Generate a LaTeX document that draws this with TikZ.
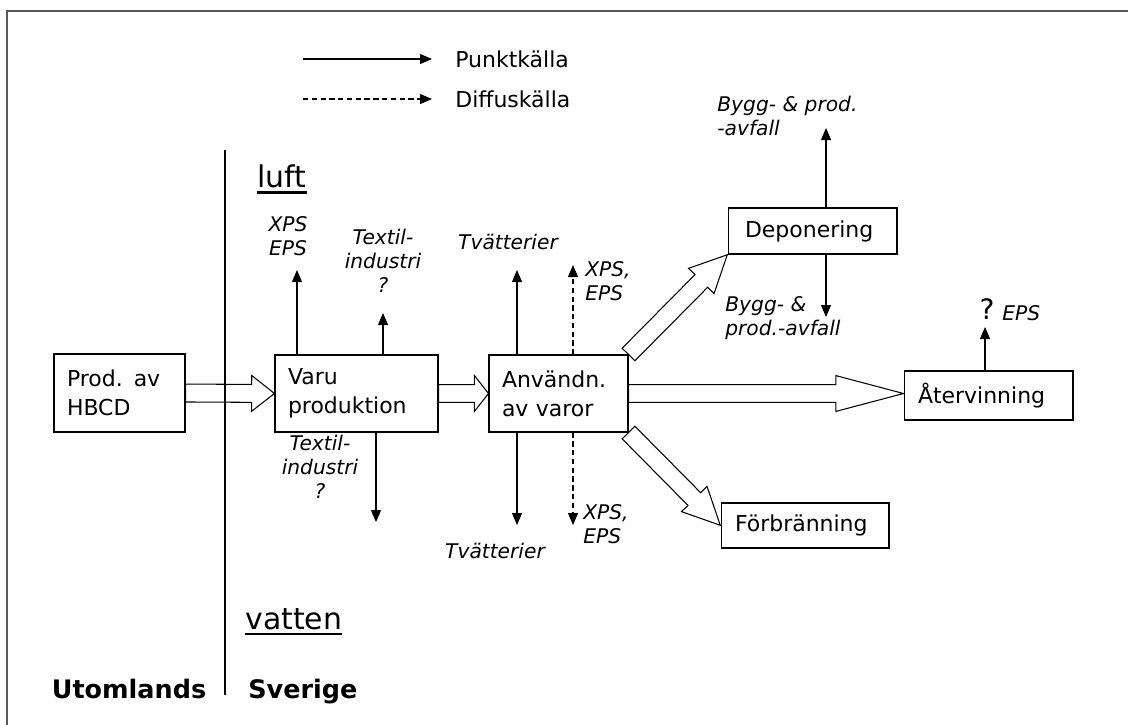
\documentclass[tikz,border=0pt]{standalone}
\usepackage{fontspec}
\setmainfont{DejaVu Sans}
\usetikzlibrary{arrows.meta,positioning,calc,backgrounds}

% block arrow: from, to, head length
\newcommand{\fatarrow}[3]{%
  \path let \p1=(#1), \p2=(#2) in
    \pgfextra{\pgfmathsetmacro\fatang{atan2(\y2-\y1,\x2-\x1)}%
      \pgfmathsetmacro\fatlen{veclen(\x2-\x1,\y2-\y1)}%
      \xdef\fatang{\fatang}\xdef\fatlen{\fatlen}};
  \draw[fat, shift={(#1)}, rotate=\fatang]
    (0pt,-5.1pt) -- ({\fatlen pt-#3},-5.1pt) -- ({\fatlen pt-#3},-10.2pt)
    -- ({\fatlen pt},0pt) -- ({\fatlen pt-#3},10.2pt) -- ({\fatlen pt-#3},5.1pt)
    -- (0pt,5.1pt) -- cycle;}

\begin{document}
\begin{tikzpicture}[x=0.02cm, y=-0.02cm,
    box/.style={draw, fill=white, line width=0.6pt, inner sep=0pt, align=left, font=\fontsize{12.5}{16.5}\selectfont},
    lab/.style={inner sep=0pt, align=center, font=\itshape\fontsize{11.5}{13.5}\selectfont},
    txt/.style={inner sep=0pt, font=\fontsize{12.5}{15}\selectfont},
    big/.style={inner sep=0pt, anchor=base west, font=\fontsize{17}{20}\selectfont},
    land/.style={inner sep=0pt, anchor=base, font=\bfseries\fontsize{14.5}{17}\selectfont},
    pk/.style={-{Triangle[length=2.4mm,width=2mm]}, line width=0.6pt},
    dk/.style={pk, dash pattern=on 3pt off 2pt},
    fat/.style={draw, fill=white, line width=0.6pt, line join=miter}
]
\useasboundingbox (0,0) rectangle (1128,724);
\draw[black!65, line width=0.9pt] (7,11) rectangle (1140,740);

% legend
\coordinate (lg1) at (303,59);
\coordinate (lg2) at (303,99);
\node[txt, anchor=west] (punkt) at (455,59) {Punktkälla};
\node[txt, anchor=west] (diffus) at (455,99) {Diffuskälla};
\draw[pk] (lg1) -- ([xshift=-0.46cm]punkt.west |- lg1);
\draw[dk] (lg2) -- ([xshift=-0.46cm]diffus.west |- lg2);

% border
\draw[line width=0.6pt] (225,150) -- (225,695);
\node[land] (utom) at (129,698) {Utomlands};
\node[land, anchor=base west] (sve) at (248,698) {Sverige};
\node[big] (luft) at (257,187) {luft};
\draw[line width=1.5pt] ([yshift=-3.2pt]luft.base west) -- ([yshift=-3.2pt]luft.base east);
\node[big] (vatten) at (245,629) {vatten};
\draw[line width=1.5pt] ([yshift=-2.8pt]vatten.base west) -- ([yshift=-2.8pt]vatten.base east);

% boxes
\node[box, minimum width=2.62cm, text width=2.1cm, minimum height=1.56cm] (prod) at (119.5,393) {Prod. av\\HBCD};
\node[box, minimum width=3.26cm, text width=2.74cm, minimum height=1.54cm] (varu) at (356.5,393.5) {Varu\\produktion};
\node[box, minimum width=2.78cm, text width=2.26cm, minimum height=1.54cm] (anv) at (558.5,393.5) {Användn.\\av varor};
\node[box, minimum width=3.38cm, text width=2.7cm, minimum height=0.92cm] (dep) at (812.5,231) {Deponering};
\node[box, minimum width=3.38cm, text width=2.82cm, minimum height=0.98cm] (atv) at (988.5,395.5) {Återvinning};
\node[box, minimum width=3.36cm, text width=2.8cm, minimum height=0.9cm] (forb) at (805,525.5) {Förbränning};

% flows
\begin{scope}[on background layer]
\fatarrow{prod.east}{varu.west}{13pt}
\fatarrow{varu.east}{anv.west}{8pt}
\fatarrow{anv.east}{anv.east -| atv.west}{38.5pt}
\fatarrow{anv.north east}{dep.south west}{21pt}
\fatarrow{anv.south east}{forb.west}{21pt}
\end{scope}

% emissions up
\node[lab] (xpsA) at (288,236) {XPS\\EPS};
\node[lab] (texA) at (383,261) {Textil-\\industri\\?};
\node[lab] (tvA) at (508,242) {Tvätterier};
\node[lab, anchor=west, align=left] (xpsB) at (585,281) {XPS,\\EPS};
\coordinate (c1) at (297,270);
\coordinate (c2) at (383,313);
\coordinate (c3) at (517,270);
\coordinate (c4) at (573,265);
\draw[pk] (varu.north -| c1) -- (c1);
\draw[pk] (varu.north -| c2) -- (c2);
\draw[pk] (anv.north -| c3) -- (c3);
\draw[dk] (anv.north -| c4) -- (c4);

% emissions down
\node[lab] (texB) at (320,467) {Textil-\\industri\\?};
\node[lab] (tvB) at (495,551) {Tvätterier};
\node[lab, anchor=west, align=left] (xpsC) at (583,524) {XPS,\\EPS};
\coordinate (c5) at (376,522);
\coordinate (c6) at (517,525);
\coordinate (c7) at (573,525);
\draw[pk] (varu.south -| c5) -- (c5);
\draw[pk] (anv.south -| c6) -- (c6);
\draw[dk] (anv.south -| c7) -- (c7);

% deponering and recycling
\node[lab, anchor=west, align=left] (byggA) at (717,116) {Bygg- \& prod.\\-avfall};
\node[lab, anchor=west, align=left] (byggB) at (725,318) {Bygg- \&\\prod.-avfall};
\coordinate (c8) at (826,128);
\coordinate (c8b) at (826,317);
\draw[pk] (dep.north -| c8) -- (c8);
\draw[pk] (dep.south -| c8b) -- (c8b);
\node[inner sep=0pt, font=\fontsize{16}{18}\selectfont] (q) at (987,309) {?};
\node[lab, anchor=west] (epsR) at (1002,313) {EPS};
\coordinate (c9) at (985,327);
\draw[pk] (atv.north -| c9) -- (c9);
\end{tikzpicture}
\end{document}
